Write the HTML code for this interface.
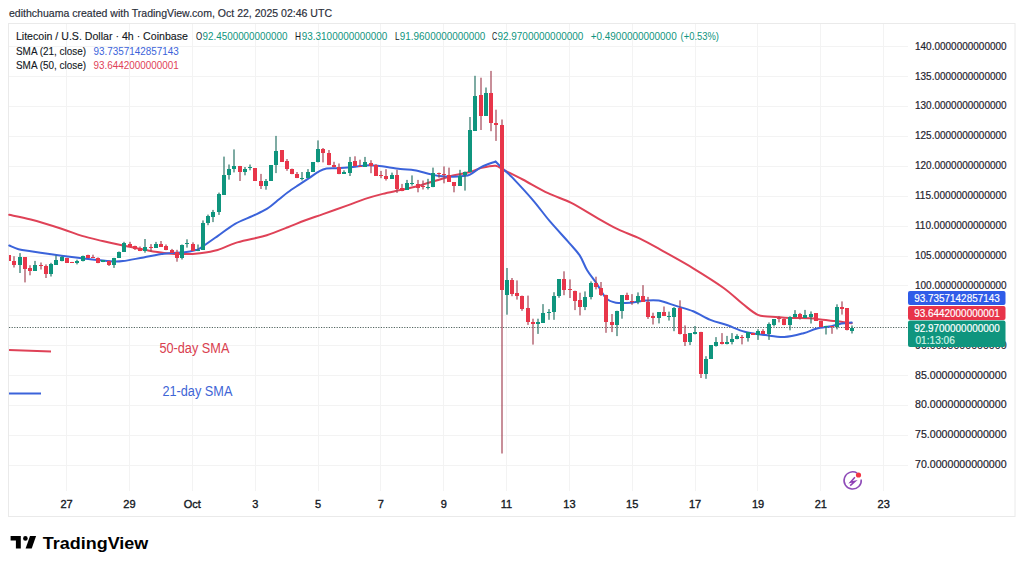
<!DOCTYPE html><html><head><meta charset="utf-8"><title>LTCUSD</title><style>
html,body{margin:0;padding:0;width:1024px;height:569px;overflow:hidden;background:#ffffff}
svg{position:absolute;left:0;top:0;display:block}
text{font-family:"Liberation Sans",sans-serif}
</style></head><body>
<svg width="1024" height="569" viewBox="0 0 1024 569">
<rect x="0" y="0" width="1024" height="569" fill="#ffffff"/>
<rect x="8.5" y="23.5" width="1006.5" height="493" fill="none" stroke="#EAEAEA" stroke-width="1"/>
<line x1="9" y1="46.5" x2="908" y2="46.5" stroke="#F3F3F3" stroke-width="1"/>
<line x1="9" y1="76.5" x2="908" y2="76.5" stroke="#F3F3F3" stroke-width="1"/>
<line x1="9" y1="106.5" x2="908" y2="106.5" stroke="#F3F3F3" stroke-width="1"/>
<line x1="9" y1="136.5" x2="908" y2="136.5" stroke="#F3F3F3" stroke-width="1"/>
<line x1="9" y1="166.5" x2="908" y2="166.5" stroke="#F3F3F3" stroke-width="1"/>
<line x1="9" y1="196.5" x2="908" y2="196.5" stroke="#F3F3F3" stroke-width="1"/>
<line x1="9" y1="226.5" x2="908" y2="226.5" stroke="#F3F3F3" stroke-width="1"/>
<line x1="9" y1="256.5" x2="908" y2="256.5" stroke="#F3F3F3" stroke-width="1"/>
<line x1="9" y1="285.5" x2="908" y2="285.5" stroke="#F3F3F3" stroke-width="1"/>
<line x1="9" y1="315.5" x2="908" y2="315.5" stroke="#F3F3F3" stroke-width="1"/>
<line x1="9" y1="345.5" x2="908" y2="345.5" stroke="#F3F3F3" stroke-width="1"/>
<line x1="9" y1="375.5" x2="908" y2="375.5" stroke="#F3F3F3" stroke-width="1"/>
<line x1="9" y1="405.5" x2="908" y2="405.5" stroke="#F3F3F3" stroke-width="1"/>
<line x1="9" y1="435.5" x2="908" y2="435.5" stroke="#F3F3F3" stroke-width="1"/>
<line x1="9" y1="465.5" x2="908" y2="465.5" stroke="#F3F3F3" stroke-width="1"/>
<line x1="66.5" y1="24" x2="66.5" y2="491" stroke="#F3F3F3" stroke-width="1"/>
<line x1="129.5" y1="24" x2="129.5" y2="491" stroke="#F3F3F3" stroke-width="1"/>
<line x1="192.5" y1="24" x2="192.5" y2="491" stroke="#F3F3F3" stroke-width="1"/>
<line x1="255.5" y1="24" x2="255.5" y2="491" stroke="#F3F3F3" stroke-width="1"/>
<line x1="318.5" y1="24" x2="318.5" y2="491" stroke="#F3F3F3" stroke-width="1"/>
<line x1="380.5" y1="24" x2="380.5" y2="491" stroke="#F3F3F3" stroke-width="1"/>
<line x1="443.5" y1="24" x2="443.5" y2="491" stroke="#F3F3F3" stroke-width="1"/>
<line x1="506.5" y1="24" x2="506.5" y2="491" stroke="#F3F3F3" stroke-width="1"/>
<line x1="569.5" y1="24" x2="569.5" y2="491" stroke="#F3F3F3" stroke-width="1"/>
<line x1="632.5" y1="24" x2="632.5" y2="491" stroke="#F3F3F3" stroke-width="1"/>
<line x1="695.5" y1="24" x2="695.5" y2="491" stroke="#F3F3F3" stroke-width="1"/>
<line x1="757.5" y1="24" x2="757.5" y2="491" stroke="#F3F3F3" stroke-width="1"/>
<line x1="820.5" y1="24" x2="820.5" y2="491" stroke="#F3F3F3" stroke-width="1"/>
<line x1="883.5" y1="24" x2="883.5" y2="491" stroke="#F3F3F3" stroke-width="1"/>
<line x1="9" y1="327.5" x2="908" y2="327.5" stroke="#52645F" stroke-width="1" stroke-dasharray="1.2,1.4"/>
<path d="M9.2,214.8 C12.8,215.6 22.1,217.2 30.8,219.5 C39.5,221.8 53.0,226.0 61.5,228.7 C70.0,231.4 75.2,233.8 82.0,235.9 C88.8,238.0 95.7,239.4 102.5,241.0 C109.3,242.6 116.2,244.1 123.0,245.5 C129.8,246.9 136.8,248.4 143.6,249.6 C150.4,250.8 157.2,252.2 164.0,252.9 C170.8,253.7 178.6,254.1 184.6,254.1 C190.6,254.1 194.5,253.9 200.0,253.2 C205.5,252.5 211.8,251.7 217.6,250.0 C223.4,248.3 229.2,245.0 235.1,243.1 C240.9,241.2 247.4,240.1 252.7,238.8 C258.0,237.5 260.9,237.1 266.8,235.2 C272.7,233.3 281.5,229.8 287.9,227.3 C294.3,224.8 299.5,222.5 305.4,220.3 C311.2,218.1 316.0,216.6 323.0,214.1 C330.0,211.6 340.6,207.9 347.6,205.4 C354.6,202.9 359.2,200.8 365.1,198.9 C371.0,197.0 376.8,195.4 382.7,193.9 C388.6,192.4 394.4,191.4 400.3,190.1 C406.2,188.8 412.0,187.6 417.9,186.0 C423.8,184.4 429.5,182.6 435.4,180.8 C441.2,179.1 447.2,177.0 453.0,175.5 C458.8,174.0 465.2,173.3 470.0,172.0 C474.8,170.7 477.3,168.9 481.6,167.9 C485.9,166.9 491.9,165.5 495.6,165.8 C499.3,166.2 499.2,167.7 503.7,170.0 C508.2,172.3 515.3,175.6 522.7,179.5 C530.1,183.4 540.0,189.3 548.1,193.2 C556.2,197.1 563.2,198.7 571.3,202.8 C579.4,206.9 588.9,213.2 596.6,217.6 C604.3,222.0 610.5,225.7 617.7,229.2 C624.9,232.7 632.5,234.9 640.0,238.6 C647.5,242.2 654.1,246.1 663.0,251.1 C671.9,256.1 683.2,262.2 693.2,268.3 C703.2,274.4 715.1,281.8 723.3,287.7 C731.5,293.6 736.9,299.3 742.6,303.8 C748.4,308.3 752.9,312.7 757.8,314.8 C762.6,316.9 766.2,316.2 771.7,316.7 C777.2,317.2 784.4,317.6 790.8,317.9 C797.1,318.1 804.5,317.9 809.8,318.2 C815.1,318.5 818.3,319.3 822.5,319.8 C826.7,320.3 831.4,320.7 835.2,321.1 C839.0,321.5 842.6,322.0 845.4,322.4 C848.1,322.8 850.7,323.1 851.7,323.2" fill="none" stroke="#DF4257" stroke-width="2" stroke-linejoin="round" stroke-linecap="round"/>
<path d="M9.2,245.5 C10.8,246.1 14.9,248.2 18.5,249.2 C22.1,250.2 25.3,250.5 30.8,251.3 C36.3,252.2 44.5,253.4 51.3,254.3 C58.1,255.2 65.0,256.1 71.8,257.0 C78.6,257.9 85.5,258.8 92.3,259.5 C99.1,260.2 107.7,261.2 112.8,261.5 C117.9,261.8 117.9,261.8 123.0,261.1 C128.1,260.4 136.8,258.6 143.6,257.4 C150.4,256.2 157.2,254.5 164.0,253.7 C170.8,252.8 179.2,252.9 184.6,252.3 C190.0,251.7 193.8,250.6 196.4,249.9 C199.0,249.2 196.5,250.7 200.0,248.4 C203.5,246.1 211.8,240.2 217.6,236.1 C223.4,232.0 229.2,227.2 235.1,223.8 C240.9,220.4 247.4,218.4 252.7,215.9 C258.0,213.4 262.4,211.7 266.8,208.9 C271.2,206.1 275.6,202.0 279.1,199.2 C282.6,196.4 284.7,194.5 287.9,192.2 C291.1,189.8 294.9,187.4 298.4,185.1 C301.9,182.8 305.5,180.4 309.0,178.1 C312.5,175.8 316.6,172.7 319.5,171.1 C322.4,169.5 323.6,169.0 326.5,168.5 C329.4,168.0 333.5,168.3 337.0,168.2 C340.5,168.0 342.9,168.0 347.6,167.6 C352.3,167.2 360.1,165.8 365.1,165.5 C370.1,165.2 371.6,165.2 377.5,165.8 C383.4,166.4 394.2,168.3 400.3,169.0 C406.4,169.7 409.7,169.4 414.4,170.2 C419.1,171.0 424.3,172.7 428.4,173.7 C432.5,174.7 434.9,175.5 439.0,176.0 C443.1,176.5 448.9,176.7 453.0,176.7 C457.1,176.7 460.8,176.3 463.6,176.0 C466.4,175.7 467.0,176.1 470.0,174.6 C473.0,173.1 477.3,169.1 481.6,166.9 C485.9,164.7 493.3,162.4 495.6,161.5 L495.6,161.5 C496.9,162.8 500.3,166.3 503.1,169.0 C505.9,171.7 507.2,172.1 512.2,177.4 C517.2,182.7 527.0,193.2 533.3,200.6 C539.6,208.0 544.2,214.7 550.2,221.7 C556.2,228.7 564.2,237.2 569.1,242.8 C574.0,248.4 576.7,250.9 579.7,255.4 C582.7,259.9 584.2,265.3 587.0,270.0 C589.8,274.7 593.3,278.7 596.5,283.4 C599.7,288.1 603.0,295.2 606.2,298.4 C609.4,301.6 611.8,302.0 615.9,302.7 C620.0,303.4 625.9,303.0 630.9,302.7 C635.9,302.4 641.2,301.0 645.9,300.6 C650.5,300.2 653.8,299.7 658.8,300.6 C663.8,301.5 670.3,304.1 676.0,305.9 C681.7,307.7 687.5,309.0 693.2,311.3 C698.9,313.6 704.7,317.6 710.4,319.9 C716.1,322.2 721.9,323.3 727.6,325.3 C733.3,327.3 738.4,330.1 744.7,331.7 C751.0,333.3 758.8,334.2 765.4,335.1 C772.0,336.0 778.0,337.3 784.4,337.0 C790.8,336.7 798.2,334.6 803.5,333.2 C808.8,331.8 811.6,329.9 816.2,328.7 C820.9,327.5 827.2,327.0 831.4,326.2 C835.6,325.4 838.2,324.2 841.6,323.6 C845.0,323.0 850.0,322.8 851.7,322.6 " fill="none" stroke="#3B63DA" stroke-width="2" stroke-linejoin="miter" stroke-linecap="round"/>
<g>
<rect x="9" y="255.4" width="2" height="5.9" fill="#E8364A" shape-rendering="crispEdges"/>
<rect x="13.4" y="256.2" width="1.2" height="11.3" fill="#A44656"/>
<rect x="12" y="260.9" width="4" height="3.9" fill="#E8364A" shape-rendering="crispEdges"/>
<rect x="19.4" y="253.1" width="1.2" height="19.9" fill="#2A7567"/>
<rect x="18" y="257.4" width="4" height="7.4" fill="#0F957E" shape-rendering="crispEdges"/>
<rect x="24.4" y="257.0" width="1.2" height="25.4" fill="#A44656"/>
<rect x="23" y="257.0" width="4" height="11.7" fill="#E8364A" shape-rendering="crispEdges"/>
<rect x="29.4" y="265.2" width="1.2" height="10.1" fill="#A44656"/>
<rect x="28" y="267.9" width="4" height="3.1" fill="#E8364A" shape-rendering="crispEdges"/>
<rect x="34.4" y="260.9" width="1.2" height="10.1" fill="#2A7567"/>
<rect x="33" y="265.2" width="4" height="5.8" fill="#0F957E" shape-rendering="crispEdges"/>
<rect x="40.4" y="262.5" width="1.2" height="7.0" fill="#A44656"/>
<rect x="39" y="264.8" width="4" height="1.2" fill="#E8364A" shape-rendering="crispEdges"/>
<rect x="45.4" y="264.4" width="1.2" height="13.6" fill="#A44656"/>
<rect x="44" y="266.0" width="4" height="7.8" fill="#E8364A" shape-rendering="crispEdges"/>
<rect x="50.4" y="262.8" width="1.2" height="13.7" fill="#2A7567"/>
<rect x="49" y="264.0" width="4" height="9.8" fill="#0F957E" shape-rendering="crispEdges"/>
<rect x="55.4" y="255.4" width="1.2" height="9.4" fill="#2A7567"/>
<rect x="54" y="260.1" width="4" height="4.7" fill="#0F957E" shape-rendering="crispEdges"/>
<rect x="61.4" y="256.2" width="1.2" height="5.1" fill="#2A7567"/>
<rect x="60" y="256.6" width="4" height="3.9" fill="#0F957E" shape-rendering="crispEdges"/>
<rect x="66.4" y="257.8" width="1.2" height="4.7" fill="#A44656"/>
<rect x="65" y="257.8" width="4" height="4.7" fill="#E8364A" shape-rendering="crispEdges"/>
<rect x="71.4" y="261.9" width="1.2" height="0.9" fill="#A44656"/>
<rect x="70" y="261.9" width="4" height="1.0" fill="#E8364A" shape-rendering="crispEdges"/>
<rect x="76.4" y="259.7" width="1.2" height="4.7" fill="#2A7567"/>
<rect x="75" y="261.3" width="4" height="1.9" fill="#0F957E" shape-rendering="crispEdges"/>
<rect x="82.4" y="255.6" width="1.2" height="5.8" fill="#2A7567"/>
<rect x="81" y="255.6" width="4" height="5.8" fill="#0F957E" shape-rendering="crispEdges"/>
<rect x="87.4" y="254.7" width="1.2" height="3.5" fill="#A44656"/>
<rect x="86" y="255.4" width="4" height="2.8" fill="#E8364A" shape-rendering="crispEdges"/>
<rect x="92.4" y="254.7" width="1.2" height="2.9" fill="#A44656"/>
<rect x="91" y="256.8" width="4" height="1.0" fill="#E8364A" shape-rendering="crispEdges"/>
<rect x="97.4" y="257.4" width="1.2" height="5.8" fill="#A44656"/>
<rect x="96" y="258.2" width="4" height="4.3" fill="#E8364A" shape-rendering="crispEdges"/>
<rect x="102.4" y="260.1" width="1.2" height="2.0" fill="#2A7567"/>
<rect x="101" y="260.1" width="4" height="2.0" fill="#0F957E" shape-rendering="crispEdges"/>
<rect x="108.4" y="260.5" width="1.2" height="5.5" fill="#A44656"/>
<rect x="107" y="260.5" width="4" height="4.3" fill="#E8364A" shape-rendering="crispEdges"/>
<rect x="113.4" y="257.8" width="1.2" height="10.1" fill="#2A7567"/>
<rect x="112" y="257.8" width="4" height="7.0" fill="#0F957E" shape-rendering="crispEdges"/>
<rect x="118.4" y="251.5" width="1.2" height="6.3" fill="#2A7567"/>
<rect x="117" y="251.5" width="4" height="6.3" fill="#0F957E" shape-rendering="crispEdges"/>
<rect x="123.4" y="241.8" width="1.2" height="9.7" fill="#2A7567"/>
<rect x="122" y="243.3" width="4" height="8.2" fill="#0F957E" shape-rendering="crispEdges"/>
<rect x="129.4" y="241.8" width="1.2" height="5.0" fill="#A44656"/>
<rect x="128" y="243.7" width="4" height="3.1" fill="#E8364A" shape-rendering="crispEdges"/>
<rect x="134.4" y="245.7" width="1.2" height="4.3" fill="#A44656"/>
<rect x="133" y="245.7" width="4" height="3.5" fill="#E8364A" shape-rendering="crispEdges"/>
<rect x="139.4" y="246.5" width="1.2" height="4.6" fill="#A44656"/>
<rect x="138" y="247.6" width="4" height="3.5" fill="#E8364A" shape-rendering="crispEdges"/>
<rect x="144.4" y="239.0" width="1.2" height="13.7" fill="#2A7567"/>
<rect x="143" y="247.2" width="4" height="3.6" fill="#0F957E" shape-rendering="crispEdges"/>
<rect x="150.4" y="244.1" width="1.2" height="7.8" fill="#A44656"/>
<rect x="149" y="246.8" width="4" height="1.0" fill="#E8364A" shape-rendering="crispEdges"/>
<rect x="155.4" y="241.9" width="1.2" height="5.7" fill="#2A7567"/>
<rect x="154" y="244.3" width="4" height="3.3" fill="#0F957E" shape-rendering="crispEdges"/>
<rect x="160.4" y="241.0" width="1.2" height="5.7" fill="#A44656"/>
<rect x="159" y="244.1" width="4" height="2.6" fill="#E8364A" shape-rendering="crispEdges"/>
<rect x="165.4" y="244.5" width="1.2" height="5.7" fill="#A44656"/>
<rect x="164" y="246.3" width="4" height="3.9" fill="#E8364A" shape-rendering="crispEdges"/>
<rect x="171.4" y="248.9" width="1.2" height="4.0" fill="#A44656"/>
<rect x="170" y="249.8" width="4" height="3.1" fill="#E8364A" shape-rendering="crispEdges"/>
<rect x="176.4" y="249.8" width="1.2" height="11.9" fill="#A44656"/>
<rect x="175" y="252.4" width="4" height="5.3" fill="#E8364A" shape-rendering="crispEdges"/>
<rect x="181.4" y="244.5" width="1.2" height="15.0" fill="#2A7567"/>
<rect x="180" y="244.5" width="4" height="13.2" fill="#0F957E" shape-rendering="crispEdges"/>
<rect x="186.4" y="239.3" width="1.2" height="8.3" fill="#2A7567"/>
<rect x="185" y="242.8" width="4" height="1.3" fill="#0F957E" shape-rendering="crispEdges"/>
<rect x="192.4" y="242.3" width="1.2" height="8.4" fill="#A44656"/>
<rect x="191" y="243.6" width="4" height="7.1" fill="#E8364A" shape-rendering="crispEdges"/>
<rect x="197.4" y="244.5" width="1.2" height="6.6" fill="#2A7567"/>
<rect x="196" y="249.8" width="4" height="1.3" fill="#0F957E" shape-rendering="crispEdges"/>
<rect x="202.4" y="220.4" width="1.2" height="29.4" fill="#2A7567"/>
<rect x="201" y="222.5" width="4" height="27.3" fill="#0F957E" shape-rendering="crispEdges"/>
<rect x="207.4" y="214.6" width="1.2" height="10.6" fill="#2A7567"/>
<rect x="206" y="216.4" width="4" height="6.6" fill="#0F957E" shape-rendering="crispEdges"/>
<rect x="212.4" y="209.9" width="1.2" height="12.2" fill="#2A7567"/>
<rect x="211" y="212.2" width="4" height="4.6" fill="#0F957E" shape-rendering="crispEdges"/>
<rect x="218.4" y="192.6" width="1.2" height="22.3" fill="#2A7567"/>
<rect x="217" y="194.0" width="4" height="18.0" fill="#0F957E" shape-rendering="crispEdges"/>
<rect x="223.4" y="156.6" width="1.2" height="38.2" fill="#2A7567"/>
<rect x="222" y="174.6" width="4" height="20.2" fill="#0F957E" shape-rendering="crispEdges"/>
<rect x="228.4" y="164.5" width="1.2" height="15.1" fill="#2A7567"/>
<rect x="227" y="168.8" width="4" height="5.8" fill="#0F957E" shape-rendering="crispEdges"/>
<rect x="233.4" y="149.4" width="1.2" height="23.0" fill="#2A7567"/>
<rect x="232" y="166.2" width="4" height="2.3" fill="#0F957E" shape-rendering="crispEdges"/>
<rect x="239.4" y="165.9" width="1.2" height="15.1" fill="#A44656"/>
<rect x="238" y="165.9" width="4" height="6.5" fill="#E8364A" shape-rendering="crispEdges"/>
<rect x="244.4" y="167.0" width="1.2" height="8.3" fill="#2A7567"/>
<rect x="243" y="168.5" width="4" height="3.9" fill="#0F957E" shape-rendering="crispEdges"/>
<rect x="249.4" y="164.5" width="1.2" height="5.8" fill="#2A7567"/>
<rect x="248" y="166.7" width="4" height="1.4" fill="#0F957E" shape-rendering="crispEdges"/>
<rect x="254.4" y="168.1" width="1.2" height="12.9" fill="#A44656"/>
<rect x="253" y="168.1" width="4" height="12.9" fill="#E8364A" shape-rendering="crispEdges"/>
<rect x="260.4" y="173.9" width="1.2" height="15.1" fill="#A44656"/>
<rect x="259" y="181.0" width="4" height="5.1" fill="#E8364A" shape-rendering="crispEdges"/>
<rect x="265.4" y="179.0" width="1.2" height="10.7" fill="#2A7567"/>
<rect x="264" y="181.0" width="4" height="5.1" fill="#0F957E" shape-rendering="crispEdges"/>
<rect x="270.4" y="165.2" width="1.2" height="15.8" fill="#2A7567"/>
<rect x="269" y="165.2" width="4" height="15.8" fill="#0F957E" shape-rendering="crispEdges"/>
<rect x="275.4" y="135.9" width="1.2" height="37.2" fill="#2A7567"/>
<rect x="274" y="151.0" width="4" height="14.2" fill="#0F957E" shape-rendering="crispEdges"/>
<rect x="281.4" y="150.0" width="1.2" height="11.8" fill="#A44656"/>
<rect x="280" y="150.0" width="4" height="11.8" fill="#E8364A" shape-rendering="crispEdges"/>
<rect x="286.4" y="159.0" width="1.2" height="11.8" fill="#A44656"/>
<rect x="285" y="161.2" width="4" height="7.9" fill="#E8364A" shape-rendering="crispEdges"/>
<rect x="291.4" y="168.6" width="1.2" height="5.6" fill="#A44656"/>
<rect x="290" y="168.6" width="4" height="5.6" fill="#E8364A" shape-rendering="crispEdges"/>
<rect x="296.4" y="172.0" width="1.2" height="6.1" fill="#A44656"/>
<rect x="295" y="173.6" width="4" height="4.5" fill="#E8364A" shape-rendering="crispEdges"/>
<rect x="301.4" y="172.0" width="1.2" height="8.4" fill="#2A7567"/>
<rect x="300" y="177.6" width="4" height="1.0" fill="#0F957E" shape-rendering="crispEdges"/>
<rect x="307.4" y="169.1" width="1.2" height="9.0" fill="#2A7567"/>
<rect x="306" y="172.0" width="4" height="6.1" fill="#0F957E" shape-rendering="crispEdges"/>
<rect x="312.4" y="162.4" width="1.2" height="9.6" fill="#2A7567"/>
<rect x="311" y="162.4" width="4" height="9.6" fill="#0F957E" shape-rendering="crispEdges"/>
<rect x="317.4" y="140.4" width="1.2" height="22.0" fill="#2A7567"/>
<rect x="316" y="149.4" width="4" height="13.0" fill="#0F957E" shape-rendering="crispEdges"/>
<rect x="322.4" y="148.0" width="1.2" height="14.4" fill="#A44656"/>
<rect x="321" y="148.9" width="4" height="3.9" fill="#E8364A" shape-rendering="crispEdges"/>
<rect x="328.4" y="150.0" width="1.2" height="15.2" fill="#A44656"/>
<rect x="327" y="152.8" width="4" height="12.4" fill="#E8364A" shape-rendering="crispEdges"/>
<rect x="333.4" y="161.8" width="1.2" height="5.6" fill="#A44656"/>
<rect x="332" y="165.2" width="4" height="2.2" fill="#E8364A" shape-rendering="crispEdges"/>
<rect x="338.4" y="163.5" width="1.2" height="10.7" fill="#A44656"/>
<rect x="337" y="166.9" width="4" height="7.3" fill="#E8364A" shape-rendering="crispEdges"/>
<rect x="343.4" y="170.3" width="1.2" height="3.4" fill="#2A7567"/>
<rect x="342" y="172.0" width="4" height="1.7" fill="#0F957E" shape-rendering="crispEdges"/>
<rect x="349.4" y="156.9" width="1.2" height="19.1" fill="#2A7567"/>
<rect x="348" y="161.6" width="4" height="11.0" fill="#0F957E" shape-rendering="crispEdges"/>
<rect x="354.4" y="156.3" width="1.2" height="10.1" fill="#A44656"/>
<rect x="353" y="161.4" width="4" height="5.0" fill="#E8364A" shape-rendering="crispEdges"/>
<rect x="359.4" y="159.7" width="1.2" height="7.3" fill="#A44656"/>
<rect x="358" y="165.9" width="4" height="1.1" fill="#E8364A" shape-rendering="crispEdges"/>
<rect x="364.4" y="156.9" width="1.2" height="10.1" fill="#2A7567"/>
<rect x="363" y="161.9" width="4" height="5.1" fill="#0F957E" shape-rendering="crispEdges"/>
<rect x="370.4" y="160.2" width="1.2" height="13.0" fill="#A44656"/>
<rect x="369" y="162.5" width="4" height="3.4" fill="#E8364A" shape-rendering="crispEdges"/>
<rect x="375.4" y="164.2" width="1.2" height="11.8" fill="#A44656"/>
<rect x="374" y="165.3" width="4" height="10.7" fill="#E8364A" shape-rendering="crispEdges"/>
<rect x="380.4" y="170.9" width="1.2" height="7.3" fill="#A44656"/>
<rect x="379" y="174.9" width="4" height="1.1" fill="#E8364A" shape-rendering="crispEdges"/>
<rect x="385.4" y="169.2" width="1.2" height="11.3" fill="#A44656"/>
<rect x="384" y="176.0" width="4" height="2.8" fill="#E8364A" shape-rendering="crispEdges"/>
<rect x="391.4" y="172.6" width="1.2" height="6.2" fill="#2A7567"/>
<rect x="390" y="175.4" width="4" height="3.4" fill="#0F957E" shape-rendering="crispEdges"/>
<rect x="396.4" y="169.8" width="1.2" height="23.1" fill="#A44656"/>
<rect x="395" y="175.4" width="4" height="13.5" fill="#E8364A" shape-rendering="crispEdges"/>
<rect x="401.4" y="183.9" width="1.2" height="7.3" fill="#A44656"/>
<rect x="400" y="188.4" width="4" height="2.8" fill="#E8364A" shape-rendering="crispEdges"/>
<rect x="406.4" y="179.9" width="1.2" height="9.6" fill="#2A7567"/>
<rect x="405" y="183.3" width="4" height="6.2" fill="#0F957E" shape-rendering="crispEdges"/>
<rect x="411.4" y="175.4" width="1.2" height="10.2" fill="#2A7567"/>
<rect x="410" y="182.7" width="4" height="1.2" fill="#0F957E" shape-rendering="crispEdges"/>
<rect x="417.4" y="179.9" width="1.2" height="12.4" fill="#A44656"/>
<rect x="416" y="184.2" width="4" height="3.6" fill="#E8364A" shape-rendering="crispEdges"/>
<rect x="422.4" y="180.5" width="1.2" height="9.0" fill="#A44656"/>
<rect x="421" y="185.6" width="4" height="1.1" fill="#E8364A" shape-rendering="crispEdges"/>
<rect x="427.4" y="178.8" width="1.2" height="10.7" fill="#2A7567"/>
<rect x="426" y="186.7" width="4" height="1.1" fill="#0F957E" shape-rendering="crispEdges"/>
<rect x="432.4" y="167.6" width="1.2" height="19.6" fill="#2A7567"/>
<rect x="431" y="173.2" width="4" height="14.0" fill="#0F957E" shape-rendering="crispEdges"/>
<rect x="438.4" y="172.6" width="1.2" height="5.1" fill="#A44656"/>
<rect x="437" y="173.2" width="4" height="1.1" fill="#E8364A" shape-rendering="crispEdges"/>
<rect x="443.4" y="166.4" width="1.2" height="16.9" fill="#A44656"/>
<rect x="442" y="174.3" width="4" height="1.1" fill="#E8364A" shape-rendering="crispEdges"/>
<rect x="448.4" y="167.6" width="1.2" height="14.0" fill="#A44656"/>
<rect x="447" y="175.4" width="4" height="6.2" fill="#E8364A" shape-rendering="crispEdges"/>
<rect x="453.4" y="182.2" width="1.2" height="10.1" fill="#A44656"/>
<rect x="452" y="182.2" width="4" height="3.4" fill="#E8364A" shape-rendering="crispEdges"/>
<rect x="459.4" y="169.8" width="1.2" height="15.8" fill="#2A7567"/>
<rect x="458" y="176.0" width="4" height="9.6" fill="#0F957E" shape-rendering="crispEdges"/>
<rect x="464.4" y="171.5" width="1.2" height="19.1" fill="#2A7567"/>
<rect x="463" y="171.5" width="4" height="3.9" fill="#0F957E" shape-rendering="crispEdges"/>
<rect x="469.4" y="117.0" width="1.2" height="54.5" fill="#2A7567"/>
<rect x="468" y="130.0" width="4" height="41.5" fill="#0F957E" shape-rendering="crispEdges"/>
<rect x="474.4" y="75.8" width="1.2" height="54.8" fill="#2A7567"/>
<rect x="473" y="96.1" width="4" height="34.5" fill="#0F957E" shape-rendering="crispEdges"/>
<rect x="480.4" y="77.7" width="1.2" height="52.3" fill="#A44656"/>
<rect x="479" y="95.3" width="4" height="20.5" fill="#E8364A" shape-rendering="crispEdges"/>
<rect x="485.4" y="87.5" width="1.2" height="28.3" fill="#2A7567"/>
<rect x="484" y="92.8" width="4" height="23.0" fill="#0F957E" shape-rendering="crispEdges"/>
<rect x="490.4" y="70.9" width="1.2" height="60.3" fill="#A44656"/>
<rect x="489" y="92.8" width="4" height="30.4" fill="#E8364A" shape-rendering="crispEdges"/>
<rect x="495.4" y="109.7" width="1.2" height="31.2" fill="#A44656"/>
<rect x="494" y="123.3" width="4" height="1.7" fill="#E8364A" shape-rendering="crispEdges"/>
<rect x="501.4" y="119.5" width="1.2" height="334.0" fill="#A44656"/>
<rect x="500" y="125.0" width="4" height="165.0" fill="#E8364A" shape-rendering="crispEdges"/>
<rect x="506.4" y="268.0" width="1.2" height="46.7" fill="#2A7567"/>
<rect x="505" y="280.4" width="4" height="14.1" fill="#0F957E" shape-rendering="crispEdges"/>
<rect x="511.4" y="278.0" width="1.2" height="18.2" fill="#A44656"/>
<rect x="510" y="279.8" width="4" height="13.8" fill="#E8364A" shape-rendering="crispEdges"/>
<rect x="516.4" y="280.4" width="1.2" height="19.2" fill="#A44656"/>
<rect x="515" y="293.3" width="4" height="2.8" fill="#E8364A" shape-rendering="crispEdges"/>
<rect x="521.4" y="295.6" width="1.2" height="15.2" fill="#A44656"/>
<rect x="520" y="295.6" width="4" height="12.9" fill="#E8364A" shape-rendering="crispEdges"/>
<rect x="527.4" y="295.6" width="1.2" height="29.3" fill="#A44656"/>
<rect x="526" y="308.0" width="4" height="13.5" fill="#E8364A" shape-rendering="crispEdges"/>
<rect x="532.4" y="318.7" width="1.2" height="25.9" fill="#A44656"/>
<rect x="531" y="322.3" width="4" height="1.7" fill="#E8364A" shape-rendering="crispEdges"/>
<rect x="537.4" y="318.7" width="1.2" height="15.2" fill="#2A7567"/>
<rect x="536" y="322.4" width="4" height="1.7" fill="#0F957E" shape-rendering="crispEdges"/>
<rect x="542.4" y="304.1" width="1.2" height="18.5" fill="#2A7567"/>
<rect x="541" y="312.5" width="4" height="10.1" fill="#0F957E" shape-rendering="crispEdges"/>
<rect x="548.4" y="309.1" width="1.2" height="10.7" fill="#2A7567"/>
<rect x="547" y="311.9" width="4" height="1.0" fill="#0F957E" shape-rendering="crispEdges"/>
<rect x="553.4" y="292.2" width="1.2" height="27.6" fill="#2A7567"/>
<rect x="552" y="295.6" width="4" height="16.3" fill="#0F957E" shape-rendering="crispEdges"/>
<rect x="558.4" y="279.4" width="1.2" height="18.4" fill="#2A7567"/>
<rect x="557" y="279.4" width="4" height="16.7" fill="#0F957E" shape-rendering="crispEdges"/>
<rect x="563.4" y="271.3" width="1.2" height="23.9" fill="#A44656"/>
<rect x="562" y="279.3" width="4" height="10.4" fill="#E8364A" shape-rendering="crispEdges"/>
<rect x="569.4" y="279.4" width="1.2" height="18.6" fill="#A44656"/>
<rect x="568" y="289.4" width="4" height="1.0" fill="#E8364A" shape-rendering="crispEdges"/>
<rect x="574.4" y="290.7" width="1.2" height="19.4" fill="#A44656"/>
<rect x="573" y="290.7" width="4" height="10.0" fill="#E8364A" shape-rendering="crispEdges"/>
<rect x="579.4" y="292.7" width="1.2" height="22.7" fill="#A44656"/>
<rect x="578" y="300.0" width="4" height="6.7" fill="#E8364A" shape-rendering="crispEdges"/>
<rect x="584.4" y="291.4" width="1.2" height="18.7" fill="#2A7567"/>
<rect x="583" y="296.7" width="4" height="10.0" fill="#0F957E" shape-rendering="crispEdges"/>
<rect x="590.4" y="281.4" width="1.2" height="18.0" fill="#2A7567"/>
<rect x="589" y="282.7" width="4" height="14.7" fill="#0F957E" shape-rendering="crispEdges"/>
<rect x="595.4" y="276.7" width="1.2" height="12.7" fill="#A44656"/>
<rect x="594" y="282.7" width="4" height="4.7" fill="#E8364A" shape-rendering="crispEdges"/>
<rect x="600.4" y="282.0" width="1.2" height="14.0" fill="#A44656"/>
<rect x="599" y="288.0" width="4" height="7.4" fill="#E8364A" shape-rendering="crispEdges"/>
<rect x="605.4" y="294.7" width="1.2" height="38.1" fill="#A44656"/>
<rect x="604" y="294.7" width="4" height="27.4" fill="#E8364A" shape-rendering="crispEdges"/>
<rect x="611.4" y="314.0" width="1.2" height="18.1" fill="#A44656"/>
<rect x="610" y="322.1" width="4" height="3.3" fill="#E8364A" shape-rendering="crispEdges"/>
<rect x="616.4" y="310.7" width="1.2" height="25.4" fill="#2A7567"/>
<rect x="615" y="310.7" width="4" height="14.0" fill="#0F957E" shape-rendering="crispEdges"/>
<rect x="621.4" y="295.4" width="1.2" height="23.3" fill="#2A7567"/>
<rect x="620" y="295.4" width="4" height="15.3" fill="#0F957E" shape-rendering="crispEdges"/>
<rect x="626.4" y="292.7" width="1.2" height="7.5" fill="#A44656"/>
<rect x="625" y="295.3" width="4" height="4.9" fill="#E8364A" shape-rendering="crispEdges"/>
<rect x="631.4" y="294.1" width="1.2" height="10.7" fill="#A44656"/>
<rect x="630" y="300.9" width="4" height="1.1" fill="#E8364A" shape-rendering="crispEdges"/>
<rect x="637.4" y="292.4" width="1.2" height="11.8" fill="#2A7567"/>
<rect x="636" y="295.8" width="4" height="6.2" fill="#0F957E" shape-rendering="crispEdges"/>
<rect x="642.4" y="285.1" width="1.2" height="16.9" fill="#A44656"/>
<rect x="641" y="295.8" width="4" height="6.2" fill="#E8364A" shape-rendering="crispEdges"/>
<rect x="647.4" y="296.9" width="1.2" height="22.0" fill="#A44656"/>
<rect x="646" y="302.0" width="4" height="14.6" fill="#E8364A" shape-rendering="crispEdges"/>
<rect x="652.4" y="312.7" width="1.2" height="11.8" fill="#A44656"/>
<rect x="651" y="316.4" width="4" height="1.1" fill="#E8364A" shape-rendering="crispEdges"/>
<rect x="658.4" y="312.1" width="1.2" height="11.3" fill="#2A7567"/>
<rect x="657" y="312.1" width="4" height="5.6" fill="#0F957E" shape-rendering="crispEdges"/>
<rect x="663.4" y="306.5" width="1.2" height="9.6" fill="#A44656"/>
<rect x="662" y="312.1" width="4" height="4.0" fill="#E8364A" shape-rendering="crispEdges"/>
<rect x="668.4" y="311.6" width="1.2" height="9.0" fill="#2A7567"/>
<rect x="667" y="316.1" width="4" height="1.0" fill="#0F957E" shape-rendering="crispEdges"/>
<rect x="673.4" y="307.1" width="1.2" height="24.1" fill="#2A7567"/>
<rect x="672" y="308.2" width="4" height="8.4" fill="#0F957E" shape-rendering="crispEdges"/>
<rect x="679.4" y="300.3" width="1.2" height="34.1" fill="#A44656"/>
<rect x="678" y="307.6" width="4" height="26.8" fill="#E8364A" shape-rendering="crispEdges"/>
<rect x="684.4" y="325.4" width="1.2" height="20.6" fill="#A44656"/>
<rect x="683" y="334.4" width="4" height="7.4" fill="#E8364A" shape-rendering="crispEdges"/>
<rect x="689.4" y="333.3" width="1.2" height="11.8" fill="#2A7567"/>
<rect x="688" y="333.3" width="4" height="8.5" fill="#0F957E" shape-rendering="crispEdges"/>
<rect x="694.4" y="326.0" width="1.2" height="8.4" fill="#2A7567"/>
<rect x="693" y="331.8" width="4" height="2.6" fill="#0F957E" shape-rendering="crispEdges"/>
<rect x="700.4" y="331.8" width="1.2" height="46.2" fill="#A44656"/>
<rect x="699" y="331.8" width="4" height="42.2" fill="#E8364A" shape-rendering="crispEdges"/>
<rect x="705.4" y="356.2" width="1.2" height="22.6" fill="#2A7567"/>
<rect x="704" y="359.0" width="4" height="15.0" fill="#0F957E" shape-rendering="crispEdges"/>
<rect x="710.4" y="345.0" width="1.2" height="14.0" fill="#2A7567"/>
<rect x="709" y="345.0" width="4" height="14.0" fill="#0F957E" shape-rendering="crispEdges"/>
<rect x="715.4" y="337.1" width="1.2" height="9.5" fill="#2A7567"/>
<rect x="714" y="341.6" width="4" height="3.9" fill="#0F957E" shape-rendering="crispEdges"/>
<rect x="721.4" y="333.1" width="1.2" height="11.3" fill="#A44656"/>
<rect x="720" y="341.6" width="4" height="2.8" fill="#E8364A" shape-rendering="crispEdges"/>
<rect x="726.4" y="335.9" width="1.2" height="8.5" fill="#2A7567"/>
<rect x="725" y="341.6" width="4" height="2.8" fill="#0F957E" shape-rendering="crispEdges"/>
<rect x="731.4" y="333.1" width="1.2" height="11.3" fill="#2A7567"/>
<rect x="730" y="339.3" width="4" height="2.3" fill="#0F957E" shape-rendering="crispEdges"/>
<rect x="736.4" y="334.2" width="1.2" height="5.1" fill="#2A7567"/>
<rect x="735" y="335.9" width="4" height="3.4" fill="#0F957E" shape-rendering="crispEdges"/>
<rect x="741.4" y="335.0" width="1.2" height="9.4" fill="#A44656"/>
<rect x="740" y="336.5" width="4" height="1.1" fill="#E8364A" shape-rendering="crispEdges"/>
<rect x="747.4" y="332.0" width="1.2" height="9.6" fill="#2A7567"/>
<rect x="746" y="332.0" width="4" height="6.2" fill="#0F957E" shape-rendering="crispEdges"/>
<rect x="752.4" y="332.8" width="1.2" height="2.0" fill="#A44656"/>
<rect x="751" y="332.8" width="4" height="2.0" fill="#E8364A" shape-rendering="crispEdges"/>
<rect x="757.4" y="329.2" width="1.2" height="10.7" fill="#2A7567"/>
<rect x="756" y="330.9" width="4" height="3.9" fill="#0F957E" shape-rendering="crispEdges"/>
<rect x="762.4" y="329.2" width="1.2" height="4.5" fill="#A44656"/>
<rect x="761" y="330.9" width="4" height="2.8" fill="#E8364A" shape-rendering="crispEdges"/>
<rect x="768.4" y="322.4" width="1.2" height="17.5" fill="#2A7567"/>
<rect x="767" y="324.1" width="4" height="9.6" fill="#0F957E" shape-rendering="crispEdges"/>
<rect x="773.4" y="319.1" width="1.2" height="7.3" fill="#2A7567"/>
<rect x="772" y="319.1" width="4" height="5.6" fill="#0F957E" shape-rendering="crispEdges"/>
<rect x="778.4" y="316.2" width="1.2" height="6.2" fill="#A44656"/>
<rect x="777" y="317.9" width="4" height="1.2" fill="#E8364A" shape-rendering="crispEdges"/>
<rect x="783.4" y="318.5" width="1.2" height="6.7" fill="#A44656"/>
<rect x="782" y="318.5" width="4" height="6.7" fill="#E8364A" shape-rendering="crispEdges"/>
<rect x="789.4" y="316.2" width="1.2" height="14.1" fill="#2A7567"/>
<rect x="788" y="316.8" width="4" height="8.4" fill="#0F957E" shape-rendering="crispEdges"/>
<rect x="794.4" y="310.1" width="1.2" height="7.3" fill="#2A7567"/>
<rect x="793" y="314.0" width="4" height="3.4" fill="#0F957E" shape-rendering="crispEdges"/>
<rect x="799.4" y="312.9" width="1.2" height="6.7" fill="#A44656"/>
<rect x="798" y="314.0" width="4" height="3.9" fill="#E8364A" shape-rendering="crispEdges"/>
<rect x="804.4" y="309.9" width="1.2" height="8.0" fill="#2A7567"/>
<rect x="803" y="315.4" width="4" height="2.5" fill="#0F957E" shape-rendering="crispEdges"/>
<rect x="810.4" y="311.4" width="1.2" height="12.1" fill="#2A7567"/>
<rect x="809" y="313.5" width="4" height="3.2" fill="#0F957E" shape-rendering="crispEdges"/>
<rect x="815.4" y="313.3" width="1.2" height="7.3" fill="#A44656"/>
<rect x="814" y="313.3" width="4" height="7.3" fill="#E8364A" shape-rendering="crispEdges"/>
<rect x="820.4" y="320.8" width="1.2" height="6.6" fill="#A44656"/>
<rect x="819" y="320.8" width="4" height="6.6" fill="#E8364A" shape-rendering="crispEdges"/>
<rect x="825.4" y="325.8" width="1.2" height="8.7" fill="#2A7567"/>
<rect x="824" y="326.0" width="4" height="1.0" fill="#0F957E" shape-rendering="crispEdges"/>
<rect x="831.4" y="326.4" width="1.2" height="7.4" fill="#A44656"/>
<rect x="830" y="326.4" width="4" height="1.0" fill="#E8364A" shape-rendering="crispEdges"/>
<rect x="836.4" y="304.3" width="1.2" height="25.1" fill="#2A7567"/>
<rect x="835" y="307.3" width="4" height="20.1" fill="#0F957E" shape-rendering="crispEdges"/>
<rect x="841.4" y="301.4" width="1.2" height="13.2" fill="#A44656"/>
<rect x="840" y="306.8" width="4" height="1.9" fill="#E8364A" shape-rendering="crispEdges"/>
<rect x="846.4" y="308.2" width="1.2" height="22.2" fill="#A44656"/>
<rect x="845" y="308.2" width="4" height="22.2" fill="#E8364A" shape-rendering="crispEdges"/>
<rect x="851.4" y="325.5" width="1.2" height="8.0" fill="#2A7567"/>
<rect x="850" y="327.5" width="4" height="3.0" fill="#0F957E" shape-rendering="crispEdges"/>
</g>
<line x1="9" y1="350" x2="51" y2="351.5" stroke="#DF4257" stroke-width="2"/>
<line x1="9" y1="393.5" x2="41" y2="393.5" stroke="#3B63DA" stroke-width="2"/>
<text x="159.4" y="353.4" font-size="14" fill="#D9404F" text-anchor="start" font-weight="normal" textLength="70" lengthAdjust="spacingAndGlyphs">50-day SMA</text>
<text x="162.4" y="395.5" font-size="14" fill="#3F66D6" text-anchor="start" font-weight="normal" textLength="70" lengthAdjust="spacingAndGlyphs">21-day SMA</text>
<text x="9" y="16.7" font-size="11.5" fill="#2A2E39" text-anchor="start" font-weight="normal" textLength="323" lengthAdjust="spacingAndGlyphs" stroke="#2A2E39" stroke-width="0.18">edithchuama created with TradingView.com, Oct 22, 2025 02:46 UTC</text>
<text x="15.9" y="40.3" font-size="11" fill="#131722" text-anchor="start" font-weight="normal" textLength="172" lengthAdjust="spacingAndGlyphs" stroke="#131722" stroke-width="0.12">Litecoin / U.S. Dollar · 4h · Coinbase</text>
<text x="196.1" y="40.3" font-size="11" fill="#131722" text-anchor="start" font-weight="normal" textLength="6.2" lengthAdjust="spacingAndGlyphs">O</text>
<text x="202.6" y="40.3" font-size="11" fill="#0F957E" text-anchor="start" font-weight="normal" textLength="84.8" lengthAdjust="spacingAndGlyphs">92.4500000000000</text>
<text x="294.9" y="40.3" font-size="11" fill="#131722" text-anchor="start" font-weight="normal" textLength="6" lengthAdjust="spacingAndGlyphs">H</text>
<text x="301.8" y="40.3" font-size="11" fill="#0F957E" text-anchor="start" font-weight="normal" textLength="85.5" lengthAdjust="spacingAndGlyphs">93.3100000000000</text>
<text x="394.9" y="40.3" font-size="11" fill="#131722" text-anchor="start" font-weight="normal" textLength="4.6" lengthAdjust="spacingAndGlyphs">L</text>
<text x="399.8" y="40.3" font-size="11" fill="#0F957E" text-anchor="start" font-weight="normal" textLength="85.5" lengthAdjust="spacingAndGlyphs">91.9600000000000</text>
<text x="492" y="40.3" font-size="11" fill="#131722" text-anchor="start" font-weight="normal" textLength="5.2" lengthAdjust="spacingAndGlyphs">C</text>
<text x="497.4" y="40.3" font-size="11" fill="#0F957E" text-anchor="start" font-weight="normal" textLength="86" lengthAdjust="spacingAndGlyphs">92.9700000000000</text>
<text x="590.7" y="40.3" font-size="11" fill="#0F957E" text-anchor="start" font-weight="normal" textLength="86" lengthAdjust="spacingAndGlyphs">+0.4900000000000</text>
<text x="680.6" y="40.3" font-size="11" fill="#0F957E" text-anchor="start" font-weight="normal" textLength="38.4" lengthAdjust="spacingAndGlyphs">(+0.53%)</text>
<text x="16" y="54.8" font-size="11" fill="#131722" text-anchor="start" font-weight="normal" textLength="70" lengthAdjust="spacingAndGlyphs" stroke="#131722" stroke-width="0.12">SMA (21, close)</text>
<text x="93.5" y="54.8" font-size="11" fill="#3B63DA" text-anchor="start" font-weight="normal" textLength="85.3" lengthAdjust="spacingAndGlyphs">93.7357142857143</text>
<text x="16" y="69" font-size="11" fill="#131722" text-anchor="start" font-weight="normal" textLength="70" lengthAdjust="spacingAndGlyphs" stroke="#131722" stroke-width="0.12">SMA (50, close)</text>
<text x="93.5" y="69" font-size="11" fill="#DF4257" text-anchor="start" font-weight="normal" textLength="85.3" lengthAdjust="spacingAndGlyphs">93.6442000000001</text>
<text x="1006.6" y="49.6" font-size="11" fill="#1E222D" text-anchor="end" font-weight="normal" textLength="91.6" lengthAdjust="spacingAndGlyphs" stroke="#1E222D" stroke-width="0.2">140.0000000000000</text>
<text x="1006.6" y="79.5" font-size="11" fill="#1E222D" text-anchor="end" font-weight="normal" textLength="91.6" lengthAdjust="spacingAndGlyphs" stroke="#1E222D" stroke-width="0.2">135.0000000000000</text>
<text x="1006.6" y="109.4" font-size="11" fill="#1E222D" text-anchor="end" font-weight="normal" textLength="91.6" lengthAdjust="spacingAndGlyphs" stroke="#1E222D" stroke-width="0.2">130.0000000000000</text>
<text x="1006.6" y="139.3" font-size="11" fill="#1E222D" text-anchor="end" font-weight="normal" textLength="91.6" lengthAdjust="spacingAndGlyphs" stroke="#1E222D" stroke-width="0.2">125.0000000000000</text>
<text x="1006.6" y="169.2" font-size="11" fill="#1E222D" text-anchor="end" font-weight="normal" textLength="91.6" lengthAdjust="spacingAndGlyphs" stroke="#1E222D" stroke-width="0.2">120.0000000000000</text>
<text x="1006.6" y="199.1" font-size="11" fill="#1E222D" text-anchor="end" font-weight="normal" textLength="91.6" lengthAdjust="spacingAndGlyphs" stroke="#1E222D" stroke-width="0.2">115.0000000000000</text>
<text x="1006.6" y="229.0" font-size="11" fill="#1E222D" text-anchor="end" font-weight="normal" textLength="91.6" lengthAdjust="spacingAndGlyphs" stroke="#1E222D" stroke-width="0.2">110.0000000000000</text>
<text x="1006.6" y="258.9" font-size="11" fill="#1E222D" text-anchor="end" font-weight="normal" textLength="91.6" lengthAdjust="spacingAndGlyphs" stroke="#1E222D" stroke-width="0.2">105.0000000000000</text>
<text x="1006.6" y="288.8" font-size="11" fill="#1E222D" text-anchor="end" font-weight="normal" textLength="91.6" lengthAdjust="spacingAndGlyphs" stroke="#1E222D" stroke-width="0.2">100.0000000000000</text>
<text x="1006.6" y="348.6" font-size="11" fill="#1E222D" text-anchor="end" font-weight="normal" textLength="91.6" lengthAdjust="spacingAndGlyphs" stroke="#1E222D" stroke-width="0.2">90.0000000000000</text>
<text x="1006.6" y="378.5" font-size="11" fill="#1E222D" text-anchor="end" font-weight="normal" textLength="91.6" lengthAdjust="spacingAndGlyphs" stroke="#1E222D" stroke-width="0.2">85.0000000000000</text>
<text x="1006.6" y="408.4" font-size="11" fill="#1E222D" text-anchor="end" font-weight="normal" textLength="91.6" lengthAdjust="spacingAndGlyphs" stroke="#1E222D" stroke-width="0.2">80.0000000000000</text>
<text x="1006.6" y="438.3" font-size="11" fill="#1E222D" text-anchor="end" font-weight="normal" textLength="91.6" lengthAdjust="spacingAndGlyphs" stroke="#1E222D" stroke-width="0.2">75.0000000000000</text>
<text x="1006.6" y="468.2" font-size="11" fill="#1E222D" text-anchor="end" font-weight="normal" textLength="91.6" lengthAdjust="spacingAndGlyphs" stroke="#1E222D" stroke-width="0.2">70.0000000000000</text>
<text x="66.6" y="508" font-size="11" fill="#131722" text-anchor="middle" font-weight="normal" stroke="#131722" stroke-width="0.35">27</text>
<text x="129.4" y="508" font-size="11" fill="#131722" text-anchor="middle" font-weight="normal" stroke="#131722" stroke-width="0.35">29</text>
<text x="192.3" y="508" font-size="11" fill="#131722" text-anchor="middle" font-weight="normal" stroke="#131722" stroke-width="0.35">Oct</text>
<text x="255.2" y="508" font-size="11" fill="#131722" text-anchor="middle" font-weight="normal" stroke="#131722" stroke-width="0.35">3</text>
<text x="318.0" y="508" font-size="11" fill="#131722" text-anchor="middle" font-weight="normal" stroke="#131722" stroke-width="0.35">5</text>
<text x="380.9" y="508" font-size="11" fill="#131722" text-anchor="middle" font-weight="normal" stroke="#131722" stroke-width="0.35">7</text>
<text x="443.7" y="508" font-size="11" fill="#131722" text-anchor="middle" font-weight="normal" stroke="#131722" stroke-width="0.35">9</text>
<text x="506.5" y="508" font-size="11" fill="#131722" text-anchor="middle" font-weight="normal" stroke="#131722" stroke-width="0.35">11</text>
<text x="569.4" y="508" font-size="11" fill="#131722" text-anchor="middle" font-weight="normal" stroke="#131722" stroke-width="0.35">13</text>
<text x="632.2" y="508" font-size="11" fill="#131722" text-anchor="middle" font-weight="normal" stroke="#131722" stroke-width="0.35">15</text>
<text x="695.1" y="508" font-size="11" fill="#131722" text-anchor="middle" font-weight="normal" stroke="#131722" stroke-width="0.35">17</text>
<text x="758.0" y="508" font-size="11" fill="#131722" text-anchor="middle" font-weight="normal" stroke="#131722" stroke-width="0.35">19</text>
<text x="820.8" y="508" font-size="11" fill="#131722" text-anchor="middle" font-weight="normal" stroke="#131722" stroke-width="0.35">21</text>
<text x="883.7" y="508" font-size="11" fill="#131722" text-anchor="middle" font-weight="normal" stroke="#131722" stroke-width="0.35">23</text>
<rect x="908" y="291" width="97.5" height="14" rx="2" fill="#2F5CE8"/>
<text x="957" y="302.2" font-size="11" fill="#FFFFFF" text-anchor="middle" font-weight="normal" textLength="85.4" lengthAdjust="spacingAndGlyphs" stroke="#FFFFFF" stroke-width="0.2">93.7357142857143</text>
<rect x="908" y="306" width="97.5" height="14" rx="2" fill="#E8344A"/>
<text x="957" y="317.2" font-size="11" fill="#FFFFFF" text-anchor="middle" font-weight="normal" textLength="85.4" lengthAdjust="spacingAndGlyphs" stroke="#FFFFFF" stroke-width="0.2">93.6442000000001</text>
<rect x="908" y="320.5" width="97.5" height="26.5" rx="2" fill="#0F957E"/>
<text x="957" y="332" font-size="11" fill="#FFFFFF" text-anchor="middle" font-weight="normal" textLength="85.4" lengthAdjust="spacingAndGlyphs" stroke="#FFFFFF" stroke-width="0.2">92.9700000000000</text>
<text x="915.4" y="344" font-size="11" fill="#CFF3E6" text-anchor="start" font-weight="normal" textLength="39.5" lengthAdjust="spacingAndGlyphs" stroke="#CFF3E6" stroke-width="0.2">01:13:06</text>
<g fill="none" stroke="#8E4BB8" stroke-width="1.5">
<path d="M 857.2 473.2 A 8.6 8.6 0 1 0 861.2 479.5"/>
</g>
<path d="M 854.9 477.2 L 850.4 482.3 L 855 481.3 L 850.2 485.6" fill="none" stroke="#8E3FB5" stroke-width="1.5" stroke-linejoin="miter"/>
<circle cx="858.5" cy="475" r="2.6" fill="#F23645"/>
<path d="M10.6 536.1 H20.8 V548.5 H15.9 V540.5 H10.6 Z" fill="#000"/>
<circle cx="25.4" cy="538.4" r="2.3" fill="#000"/>
<path d="M30 536.1 H36.1 L31.7 548.5 H25.6 Z" fill="#000"/>
<text x="42.8" y="548.7" font-size="17" fill="#000" text-anchor="start" font-weight="bold" textLength="105.5" lengthAdjust="spacingAndGlyphs">TradingView</text>
</svg></body></html>
